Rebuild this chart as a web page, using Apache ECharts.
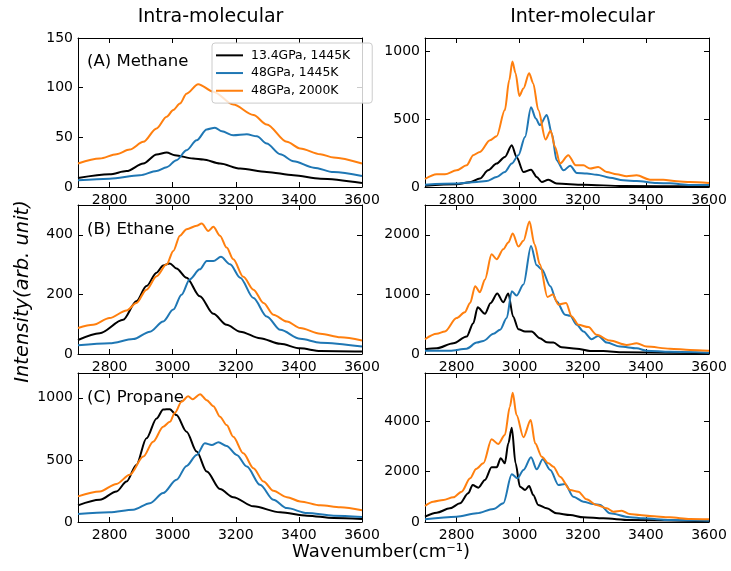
<!DOCTYPE html>
<html>
<head>
<meta charset="utf-8">
<script src="https://cdn.jsdelivr.net/npm/echarts@6/dist/echarts.min.js"></script>
<style>
html,body{margin:0;padding:0;background:#fff;}
#chart{width:731px;height:571px;}
</style>
</head>
<body>
<div id="chart"></div>
<script>
// ---------- DATA ----------
const seriesNames = ['13.4GPa, 1445K', '48GPa, 1445K', '48GPa, 2000K'];
const xTicks = [2800, 3000, 3200, 3400, 3600];
const panelTitles = ['Intra-molecular', 'Inter-molecular'];
const panelLabels = ['(A) Methane', '(B) Ethane', '(C) Propane'];
const yTicksMethaneIntra = [0, 50, 100, 150];
const yTicksMethaneInter = [0, 500, 1000];
const yTicksEthaneIntra = [0, 200, 400];
const yTicksEthaneInter = [0, 1000, 2000];
const yTicksPropaneIntra = [0, 500, 1000];
const yTicksPropaneInter = [0, 2000, 4000];
const yMaxes = [150, 1100, 500, 2500, 1200, 5900];

// Methane intra
const methaneIntraBlack = [[2700,9],[2800,12.8],[2854,16],[2907,23.6],[2949,32.7],[2981,34.7],[3007,32],[3065,28.6],[3097,27.6],[3150,23.6],[3214,18.5],[3298,15.2],[3383,11.8],[3468,8.4],[3600,4]];
const methaneIntraBlue = [[2700,6.7],[2800,8.4],[2896,11.8],[2949,16.2],[2981,20],[3012,27],[3044,37],[3076,47],[3108,58],[3134,59.7],[3156,56],[3192,52],[3235,53],[3267,51],[3298,43.8],[3341,33],[3383,26],[3447,19.5],[3510,15],[3600,11]];
const methaneIntraOrange = [[2700,23.6],[2769,28.6],[2822,33],[2864,37.7],[2907,45.5],[2949,59],[2981,70.8],[3002,77.5],[3023,84],[3044,94],[3081,103.5],[3129,96],[3192,83],[3256,72.5],[3298,63],[3362,45.5],[3404,38.8],[3468,33],[3510,29.7],[3600,23.6]];

// Methane inter
const methaneInterBlack = [[2700,10],[2800,20],[2842,35],[2874,62],[2900,123],[2927,173],[2953,222],[2975,309],[2990,222],[3012,111],[3036,128],[3054,74],[3070,37],[3091,54],[3117,25],[3202,17],[3328,7],[3600,5]];
const methaneInterBlue = [[2700,17],[2800,25],[2864,37],[2895,44],[2927,74],[2953,111],[2975,173],[2996,235],[3017,370],[3036,588],[3051,506],[3064,457],[3086,531],[3102,395],[3117,198],[3139,123],[3160,156],[3181,104],[3213,99],[3244,91],[3286,69],[3328,49],[3371,44],[3434,30],[3476,27],[3540,15],[3600,15]];
const methaneInterOrange = [[2700,59],[2737,94],[2763,94],[2800,123],[2832,160],[2853,235],[2874,259],[2906,346],[2927,375],[2953,568],[2967,790],[2977,926],[2987,840],[2999,672],[3012,728],[3030,840],[3043,765],[3059,568],[3082,351],[3098,415],[3112,296],[3128,173],[3154,235],[3178,160],[3202,160],[3223,136],[3249,148],[3276,111],[3307,94],[3339,79],[3371,86],[3413,54],[3455,54],[3498,42],[3540,37],[3600,30]];

// Ethane intra
const ethaneIntraBlack = [[2700,47],[2769,70],[2843,115],[2885,177],[2917,228],[2949,273],[2970,297],[2991,304],[3012,287],[3044,256],[3086,194],[3129,135],[3171,98],[3214,75],[3277,53],[3341,34],[3404,19],[3468,10],[3600,8]];
const ethaneIntraBlue = [[2700,29],[2800,36],[2875,50],[2928,75],[2970,109],[3002,149],[3028,199],[3054,250],[3086,284],[3108,312],[3129,312],[3153,326],[3182,301],[3214,256],[3256,188],[3298,126],[3341,81],[3404,51],[3468,38],[3600,25]];
const ethaneIntraOrange = [[2700,87],[2748,98],[2800,120.6],[2854,146],[2885,171],[2917,216],[2949,261],[2981,301],[3002,346],[3023,397],[3044,419],[3076,430],[3092,438],[3113,413],[3129,427],[3150,397],[3171,357],[3192,318],[3224,259],[3256,216],[3288,171],[3319,132],[3362,109],[3404,87],[3468,68],[3532,56],[3600,45]];

// Ethane inter
const ethaneInterBlack = [[2700,79],[2737,96],[2790,180],[2832,293],[2853,518],[2867,783],[2890,676],[2908,856],[2929,1014],[2948,868],[2964,1014],[2979,631],[2996,417],[3017,377],[3038,377],[3064,265],[3086,197],[3107,191],[3133,113],[3181,90],[3223,51],[3265,51],[3328,28],[3600,11]];
const ethaneInterBlue = [[2700,56],[2779,56],[2832,90],[2864,191],[2885,220],[2917,338],[2938,406],[2959,603],[2975,1054],[2990,980],[3012,1166],[3036,1814],[3054,1487],[3070,1420],[3097,1138],[3117,885],[3144,659],[3160,642],[3181,490],[3202,377],[3228,248],[3249,304],[3276,191],[3318,124],[3371,96],[3402,56],[3476,39],[3600,23]];
const ethaneInterOrange = [[2700,248],[2737,338],[2763,377],[2800,603],[2826,699],[2843,856],[2859,1138],[2874,1037],[2890,1251],[2911,1673],[2927,1589],[2948,1758],[2964,1870],[2978,2023],[2996,1803],[3012,1899],[3031,2225],[3047,1842],[3064,1504],[3088,958],[3105,997],[3123,828],[3147,856],[3165,631],[3186,490],[3218,451],[3244,321],[3286,225],[3339,152],[3371,180],[3402,124],[3476,90],[3540,68],[3600,56]];

// Propane intra
const propaneIntraBlack = [[2700,134],[2769,179],[2822,246],[2854,326],[2885,460],[2917,674],[2949,834],[2970,906],[2991,909],[3012,861],[3044,727],[3076,567],[3108,406],[3150,265],[3192,200],[3256,126],[3341,78],[3426,51],[3510,32],[3600,24]];
const propaneIntraBlue = [[2700,64],[2800,78],[2875,99],[2928,152],[2970,233],[3012,340],[3044,452],[3076,540],[3102,634],[3124,620],[3145,642],[3171,612],[3203,540],[3235,447],[3277,299],[3319,179],[3362,112],[3426,72],[3510,51],[3600,40]];
const propaneIntraOrange = [[2700,206],[2769,246],[2822,307],[2864,380],[2907,527],[2938,647],[2970,767],[2991,807],[3007,880],[3028,968],[3049,1013],[3063,989],[3087,1029],[3108,981],[3129,933],[3150,848],[3171,781],[3192,687],[3224,553],[3256,433],[3288,326],[3319,251],[3362,200],[3404,166],[3468,134],[3532,118],[3600,94]];

// Propane inter
const propaneInterBlack = [[2700,211],[2737,370],[2779,541],[2811,739],[2837,1135],[2851,1465],[2869,1360],[2890,1663],[2911,2165],[2927,2165],[2940,2521],[2953,2323],[2964,3116],[2975,3736],[2987,2323],[3001,1399],[3017,1267],[3030,1426],[3043,1069],[3059,673],[3086,541],[3117,343],[3160,277],[3202,185],[3265,145],[3349,79],[3600,26]];
const propaneInterBlue = [[2700,106],[2800,211],[2864,343],[2917,515],[2948,739],[2975,1888],[2993,1729],[3012,2059],[3036,2561],[3054,2086],[3073,2482],[3097,2059],[3123,1465],[3144,1505],[3170,1003],[3202,805],[3233,713],[3255,673],[3286,343],[3349,185],[3392,145],[3476,79],[3600,53]];
const propaneInterOrange = [[2700,634],[2726,805],[2758,871],[2790,977],[2816,1201],[2843,1729],[2862,2099],[2885,2323],[2911,3274],[2932,3089],[2953,3446],[2969,4568],[2978,5122],[2990,4238],[3012,3353],[3035,4040],[3049,3116],[3070,2587],[3091,2323],[3107,2191],[3128,1795],[3160,1267],[3186,1201],[3212,898],[3244,673],[3276,541],[3297,409],[3323,449],[3349,317],[3381,277],[3413,238],[3476,185],[3540,119],[3600,106]];

const panelData = [
  [methaneIntraBlack, methaneIntraBlue, methaneIntraOrange],
  [methaneInterBlack, methaneInterBlue, methaneInterOrange],
  [ethaneIntraBlack, ethaneIntraBlue, ethaneIntraOrange],
  [ethaneInterBlack, ethaneInterBlue, ethaneInterOrange],
  [propaneIntraBlack, propaneIntraBlue, propaneIntraOrange],
  [propaneInterBlack, propaneInterBlue, propaneInterOrange]
];
const panelYTicks = [yTicksMethaneIntra, yTicksMethaneInter, yTicksEthaneIntra, yTicksEthaneInter, yTicksPropaneIntra, yTicksPropaneInter];

// ---------- LAYOUT / STYLE ----------
const FONT = 'DejaVu Sans';
const colors = ['#000000', '#1f77b4', '#ff7f0e'];
const gridLefts = [78, 425];
const gridTops = [38, 205, 373];
const gridW = 284, gridH = 149;
const plain = v => String(v);

const grids = [], xAxes = [], yAxes = [], series = [];
for (let i = 0; i < 6; i++) {
  const row = Math.floor(i / 2), col = i % 2;
  grids.push({left: gridLefts[col], top: gridTops[row], width: gridW, height: gridH, containLabel: false});
  const axLine = {show: true, onZero: false, lineStyle: {color: '#000', width: 1}};
  const tickBase = {show: true, inside: true, length: 5, lineStyle: {color: '#000', width: 1}};
  xAxes.push({type: 'value', gridIndex: i, position: 'bottom', min: 2700, max: 3600,
    axisLine: axLine, splitLine: {show: false},
    axisTick: Object.assign({}, tickBase, {customValues: xTicks}),
    axisLabel: {show: true, customValues: xTicks, formatter: plain, margin: 6, color: '#000', fontSize: 14, fontFamily: FONT, showMaxLabel: true, showMinLabel: true}
  });
  xAxes.push({type: 'value', gridIndex: i, position: 'top', min: 2700, max: 3600,
    axisLine: axLine, splitLine: {show: false},
    axisTick: Object.assign({}, tickBase, {customValues: xTicks}),
    axisLabel: {show: false}
  });
  const yt = panelYTicks[i];
  yAxes.push({type: 'value', gridIndex: i, position: 'left', min: 0, max: yMaxes[i],
    axisLine: axLine, splitLine: {show: false},
    axisTick: Object.assign({}, tickBase, {customValues: yt}),
    axisLabel: {show: true, customValues: yt, formatter: plain, margin: 5, color: '#000', fontSize: 14, fontFamily: FONT, showMaxLabel: true, showMinLabel: true}
  });
  yAxes.push({type: 'value', gridIndex: i, position: 'right', min: 0, max: yMaxes[i],
    axisLine: axLine, splitLine: {show: false},
    axisTick: Object.assign({}, tickBase, {customValues: yt}),
    axisLabel: {show: false}
  });
  for (let s = 0; s < 3; s++) {
    series.push({
      name: seriesNames[s], type: 'line', xAxisIndex: 2 * i, yAxisIndex: 2 * i,
      data: panelData[i][s], symbol: 'none', smooth: 0.3, smoothMonotone: 'x',
      lineStyle: {color: colors[s], width: 2}, itemStyle: {color: colors[s]},
      animation: false, z: 2 + s
    });
  }
}

const graphics = [
  {type: 'text', x: 210.5, y: 17.5, style: {text: panelTitles[0], fontSize: 19, fontFamily: FONT, fill: '#000', textAlign: 'center', textVerticalAlign: 'middle'}},
  {type: 'text', x: 582.5, y: 17.5, style: {text: panelTitles[1], fontSize: 19, fontFamily: FONT, fill: '#000', textAlign: 'center', textVerticalAlign: 'middle'}},
  {type: 'text', x: 87, y: 62, style: {text: panelLabels[0], fontSize: 16.5, fontFamily: FONT, fill: '#000', textAlign: 'left', textVerticalAlign: 'middle'}},
  {type: 'text', x: 87, y: 230, style: {text: panelLabels[1], fontSize: 16.5, fontFamily: FONT, fill: '#000', textAlign: 'left', textVerticalAlign: 'middle'}},
  {type: 'text', x: 87, y: 397.5, style: {text: panelLabels[2], fontSize: 16.5, fontFamily: FONT, fill: '#000', textAlign: 'left', textVerticalAlign: 'middle'}},
  {type: 'text', x: 381, y: 552, style: {text: 'Wavenumber(cm\u207B\u00B9)', fontSize: 18, fontFamily: FONT, fill: '#000', textAlign: 'center', textVerticalAlign: 'middle'}},
  {type: 'text', x: 23, y: 291.5, rotation: Math.PI / 2, style: {text: 'Intensity(arb. unit)', fontSize: 19.5, fontStyle: 'italic', fontFamily: FONT, fill: '#000', textAlign: 'center', textVerticalAlign: 'middle'}}
];

const chart = echarts.init(document.getElementById('chart'), null, {renderer: 'canvas'});
chart.setOption({
  backgroundColor: '#ffffff',
  animation: false,
  grid: grids,
  xAxis: xAxes,
  yAxis: yAxes,
  series: series,
  legend: {
    data: seriesNames.map((n, k) => ({name: n, icon: 'rect', itemStyle: {color: colors[k]}})),
    orient: 'vertical', left: 212, top: 43,
    itemWidth: 27, itemHeight: 2, itemGap: 5,
    padding: [6, 22, 6, 4],
    backgroundColor: 'rgba(255,255,255,0.8)', borderColor: '#cccccc', borderWidth: 1, borderRadius: 3,
    textStyle: {fontSize: 12.4, fontFamily: FONT, color: '#000', lineHeight: 12.7, padding: [0, 0, 0, 3]},
    z: 10
  },
  graphic: graphics
});
</script>
</body>
</html>
